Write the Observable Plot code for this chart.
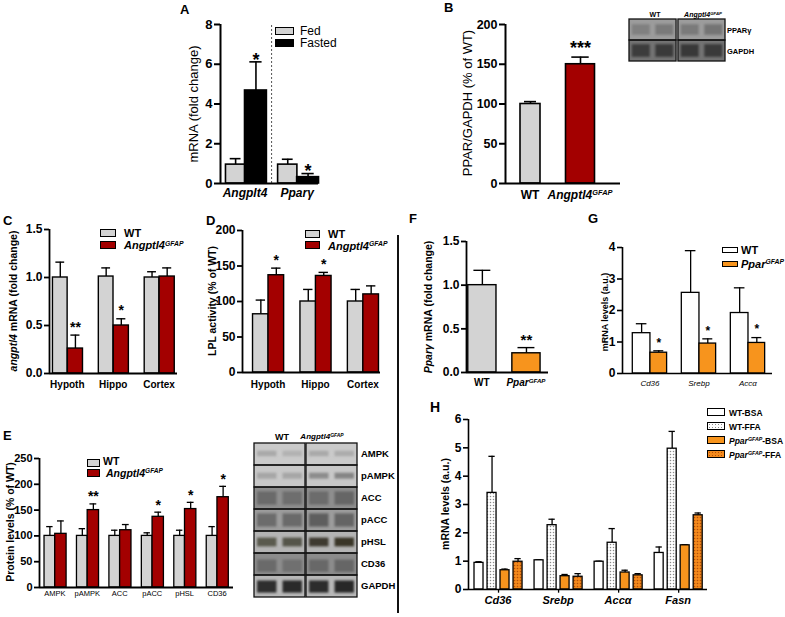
<!DOCTYPE html>
<html><head><meta charset="utf-8">
<script src="https://cdn.jsdelivr.net/npm/d3@7"></script>
<script src="https://cdn.jsdelivr.net/npm/@observablehq/plot@0.6"></script>
<style>
body{margin:0;background:#fff;}
#fig{position:relative;width:785px;height:617px;overflow:hidden;font-family:"Liberation Sans",Arial,sans-serif;color:#000;background:#fff;}
#fig svg{position:absolute;overflow:visible;background:transparent;}
.t{position:absolute;white-space:nowrap;line-height:1;}
.c{transform:translateX(-50%);}
.v{position:absolute;white-space:nowrap;line-height:1;transform:translate(-50%,-50%) rotate(-90deg);}
.sw{position:absolute;box-sizing:border-box;border:1.5px solid #000;}
sup{font-size:62%;vertical-align:0;position:relative;top:-0.5em;}
</style></head><body><div id="fig"></div>
<script>
// ---------- data ----------
const GRAY = "#d3d3d3", RED = "#a30000", ORANGE = "#f7941d", BLACK = "#000", WHITE = "#fff";

// A
const aGroups = ["Angplt4", "Pparγ"];
const aSeries = ["Fed", "Fasted"];
const aFed = [0.95, 0.95], aFedErr = [1.25, 1.22], aFedStars = ["", ""];
const aFasted = [4.68, 0.32], aFastedErr = [6.12, 0.5], aFastedStars = ["*", "*"];
const aTicks = [0, 2, 4, 6, 8];

// B
const bGroups = ["WT", "Angptl4^GFAP"];
const bValues = [100, 150], bErr = [103, 159], bStars = ["", "***"];
const bTicks = [0, 50, 100, 150, 200];
const bBlotRows = ["PPARγ", "GAPDH"];
const bBlotHeads = ["WT", "Angptl4^GFAP"];
const bBlotBg = ["#9c9c9c", "#737373"];
const bBlotBands = [["#808080", "#7a7a7a", "#7a7a7a", "#747474"], ["#3c3c3c", "#3a3a3a", "#383838", "#3a3a3a"]];

// C
const cGroups = ["Hypoth", "Hippo", "Cortex"];
const cSeries = ["WT", "Angptl4^GFAP"];
const cWT = [1.0, 1.01, 1.0], cWTErr = [1.16, 1.10, 1.06];
const cKO = [0.26, 0.50, 1.01], cKOErr = [0.40, 0.57, 1.10], cKOStars = ["**", "*", ""];
const cTicks = [0, 0.5, 1.0, 1.5];

// D
const dGroups = ["Hypoth", "Hippo", "Cortex"];
const dWT = [82, 100, 100], dWTErr = [102, 117, 117];
const dKO = [137, 136, 110], dKOErr = [147, 141, 122], dKOStars = ["*", "*", ""];
const dTicks = [0, 50, 100, 150, 200];

// E
const eGroups = ["AMPK", "pAMPK", "ACC", "pACC", "pHSL", "CD36"];
const eWT = [100, 100, 100, 100, 100, 100], eWTErr = [118, 114, 111, 106, 111, 118];
const eKO = [104, 150, 111, 137, 152, 175], eKOErr = [129, 162, 122, 146, 165, 196];
const eKOStars = ["", "**", "", "*", "*", "*"];
const eTicks = [0, 50, 100, 150, 200, 250];
const eBlotRows = ["AMPK", "pAMPK", "ACC", "pACC", "pHSL", "CD36", "GAPDH"];
const eBlotHeads = ["WT", "Angptl4^GFAP"];
const eBlotBg = ["#cacaca", "#c8c8c8", "#8e8e8e", "#9c9c9c", "#b4b4b4", "#8c8c8c", "#b8b8b8"];
const eBlotBands = [
  ["#a9a9a9", "#b2b2b2", "#a9a9a9", "#acacac"],
  ["#a6a6a6", "#a6a6a6", "#8c8c8c", "#858585"],
  ["#6a6a6a", "#6e6e6e", "#6c6c6c", "#666666"],
  ["#6c6c6c", "#6a6a6a", "#5e5e5e", "#646464"],
  ["#5a5a4e", "#55554a", "#3e3a30", "#3a3628"],
  ["#6a6a6a", "#707070", "#686868", "#666666"],
  ["#2e2e2e", "#2a2a2a", "#2c2c2c", "#282828"]
];

// F
const fGroups = ["WT", "Ppar^GFAP"];
const fValues = [1.0, 0.22], fErr = [1.17, 0.285], fStars = ["", "**"];
const fTicks = [0, 0.5, 1.0, 1.5];

// G
const gGroups = ["Cd36", "Srebp", "Accα"];
const gSeries = ["WT", "Ppar^GFAP"];
const gWT = [1.28, 2.56, 1.92], gWTErr = [1.58, 3.9, 2.72];
const gKO = [0.66, 0.95, 0.97], gKOErr = [0.72, 1.1, 1.14], gKOStars = ["*", "*", "*"];
const gTicks = [0, 1, 2, 3, 4];

// H
const hGroups = ["Cd36", "Srebp", "Accα", "Fasn"];
const hSeries = ["WT-BSA", "WT-FFA", "Ppar^GFAP-BSA", "Ppar^GFAP-FFA"];
const hWTBSA = [0.94, 1.03, 0.98, 1.29], hWTBSAErr = [0.98, 1.05, 1.0, 1.50];
const hWTFFA = [3.41, 2.27, 1.65, 4.97], hWTFFAErr = [4.70, 2.48, 2.15, 5.58];
const hKOBSA = [0.68, 0.47, 0.60, 1.56], hKOBSAErr = [0.72, 0.53, 0.68, 1.58];
const hKOFFA = [0.98, 0.45, 0.50, 2.62], hKOFFAErr = [1.09, 0.56, 0.56, 2.70];
const hTicks = [0, 1, 2, 3, 4, 5, 6];

// ---------- helpers ----------
const FONT = "Liberation Sans, Arial, sans-serif";
const fig = document.getElementById("fig");
function put(el, l, t) { el.style.left = l + "px"; el.style.top = t + "px"; fig.appendChild(el); return el; }
function fmt(s) { return s.replace(/\^(\w+)/, "<sup>$1</sup>"); }
function txt(x, y, html, css, center) {
  const d = document.createElement("div"); d.className = "t" + (center ? " c" : "");
  d.innerHTML = html; if (css) d.style.cssText = css; return put(d, x, y);
}
function vtxt(cx, cy, html, css) {
  const d = document.createElement("div"); d.className = "v"; d.innerHTML = html; if (css) d.style.cssText = css; return put(d, cx, cy);
}
function sw(x, y, w, h, bg, css) {
  const d = document.createElement("div"); d.className = "sw"; d.style.width = w + "px"; d.style.height = h + "px"; d.style.background = bg; if (css) d.style.cssText += css; return put(d, x, y);
}

function barPanel(o) {
  const padL = 60, padR = 6, padT = 14, padB = 10;
  const W = o.axR - o.axL + padL + padR, H = o.y0 - o.yTop + padT + padB;
  const lw = o.lw || 1.5;
  const bars = [];
  o.series.forEach((s, si) => {
    o.groups.forEach((g, i) => {
      bars.push({
        i, si, cx: i + (Array.isArray(s.off) ? s.off[i] : s.off),
        w: Array.isArray(s.w) ? s.w[i] : s.w,
        v: s.vals[i], e: s.errs[i], star: s.stars ? s.stars[i] : "",
        fill: Array.isArray(s.fill) ? s.fill[i] : s.fill
      });
    });
  });
  const marks = [...(o.before || [])];
  marks.push(Plot.ruleX(bars, {x: "cx", y1: "v", y2: "e", stroke: BLACK, strokeWidth: lw}));
  marks.push(Plot.ruleY(bars, {y: "e", x1: d => d.cx - d.w * o.cap, x2: d => d.cx + d.w * o.cap, stroke: BLACK, strokeWidth: lw}));
  marks.push(Plot.rect(bars, {x1: d => d.cx - d.w / 2, x2: d => d.cx + d.w / 2, y1: 0, y2: "v", fill: "fill", stroke: BLACK, strokeWidth: lw}));
  marks.push(Plot.text(bars.filter(d => d.star), {x: "cx", y: "e", text: "star", dy: o.starDy, fontSize: o.starSize, fontWeight: "bold"}));
  marks.push(Plot.ruleX([o.xDomain[0]], {y1: 0, y2: o.yDomain[1], stroke: BLACK, strokeWidth: o.axW}));
  marks.push(Plot.ruleY([0], {x1: o.xDomain[0], x2: o.xDomain[1], stroke: BLACK, strokeWidth: o.axW}));
  marks.push(Plot.axisY({ticks: o.yTicks, tickSize: o.tickSize || 5, tickPadding: 2, tickFormat: o.yFmt, fontSize: o.tickFont, fontWeight: "bold", strokeWidth: o.axW, label: null}));
  if (o.after) marks.push(...o.after);
  const p = Plot.plot({
    width: W, height: H, marginLeft: padL, marginRight: padR, marginTop: padT, marginBottom: padB,
    x: {domain: o.xDomain, axis: null}, y: {domain: o.yDomain, axis: null},
    color: {type: "identity"},
    style: {background: "transparent", fontFamily: FONT, fontWeight: "bold", overflow: "visible", color: "#000"},
    marks
  });
  put(p, o.axL - padL, o.yTop - padT);
  const xs = p.scale("x");
  o.groups.forEach((g, i) => txt(o.axL - padL + xs.apply(i), o.labelY, o.labelFmt ? o.labelFmt(g) : fmt(g), o.labelCss, true));
  return p;
}

function blot(o) {
  const boxes = [], bands = [];
  o.rows.forEach((r, ri) => {
    [0, 1].forEach(b => boxes.push({x1: b * (2 + o.gap), x2: b * (2 + o.gap) + 2, y1: ri, y2: ri + 1, fill: o.bg[ri]}));
    o.bands[ri].forEach((c, li) => {
      const x0 = li + (li >= 2 ? o.gap : 0);
      bands.push({x1: x0 + 0.12, x2: x0 + 0.88, y1: ri + o.bandY[ri][0], y2: ri + o.bandY[ri][1], fill: c});
    });
  });
  const p = Plot.plot({
    width: o.width + 2, height: o.height + 2, margin: 1,
    x: {domain: [0, 4 + o.gap], axis: null}, y: {domain: [0, o.rows.length], reverse: true, axis: null},
    color: {type: "identity"},
    style: {background: "transparent", overflow: "visible"},
    marks: [
      Plot.rect(boxes, {x1: "x1", x2: "x2", y1: "y1", y2: "y2", fill: "fill"}),
      Plot.rect(bands, {x1: "x1", x2: "x2", y1: "y1", y2: "y2", fill: "fill"}),
      Plot.rect(boxes, {x1: "x1", x2: "x2", y1: "y1", y2: "y2", fill: "none", stroke: "#111", strokeWidth: 1.3})
    ]
  });
  const gs = p.querySelectorAll("g[aria-label='rect']");
  if (gs[1]) gs[1].style.filter = "blur(1.3px)";
  put(p, o.left - 1, o.top - 1);
  return p;
}

const letter = "font-weight:bold;font-size:13px;";

// ---------- Panel A ----------
txt(180, 3, "A", letter);
barPanel({
  axL: 220, axR: 318, y0: 183, yTop: 24, xDomain: [-0.48, 1.40], yDomain: [0, 8], yTicks: aTicks, yFmt: d3.format("d"),
  tickFont: 13, tickSize: 6, axW: 2, lw: 1.6, cap: 0.28, starDy: -2, starSize: 18,
  groups: aGroups,
  series: [
    {vals: aFed, errs: aFedErr, stars: aFedStars, fill: GRAY, off: -0.19, w: 0.37},
    {vals: aFasted, errs: aFastedErr, stars: aFastedStars, fill: BLACK, off: 0.2, w: 0.42}
  ],
  before: [Plot.ruleX([0.5], {y1: 0, y2: 8, stroke: "#555", strokeDasharray: "2,2", strokeWidth: 1})],
  labelY: 186, labelCss: "font:italic bold 12px " + FONT
});
sw(275, 27, 19, 8, GRAY); txt(300, 25.5, aSeries[0], "font-size:12px;line-height:11px;");
sw(275, 39, 19, 8, BLACK); txt(300, 38, aSeries[1], "font-size:12px;line-height:11px;");
vtxt(193, 104, "mRNA (fold change)", "font-size:13px;");

// ---------- Panel B ----------
txt(444, 1, "B", letter);
barPanel({
  axL: 505, axR: 620, y0: 183, yTop: 24, xDomain: [-0.5, 1.8], yDomain: [0, 200], yTicks: bTicks, yFmt: d3.format("d"),
  tickFont: 12.5, tickSize: 6, axW: 2, lw: 1.6, cap: 0.3, starDy: -9, starSize: 18,
  groups: bGroups,
  series: [{vals: bValues, errs: bErr, stars: bStars, fill: [GRAY, RED], off: 0, w: [0.4, 0.58]}],
  labelY: 188, labelFmt: g => g.includes("^") ? "<i>" + fmt(g) + "</i>" : g, labelCss: "font:bold 12px " + FONT
});
vtxt(467, 103, "PPAR/GAPDH (% of WT)", "font-size:13px;");
blot({left: 629, top: 19, width: 96, height: 42, rows: bBlotRows, bg: bBlotBg, bands: bBlotBands, gap: 0.08, bandY: [[0.25, 0.75], [0.2, 0.8]]});
txt(655, 11, bBlotHeads[0], "font:bold 7px " + FONT, true);
txt(703, 11, "<i>" + fmt(bBlotHeads[1]) + "</i>", "font:bold 7px " + FONT, true);
bBlotRows.forEach((r, i) => txt(727, 26 + i * 21, r, "font:bold 7.5px " + FONT));

// ---------- Panel C ----------
txt(3, 214, "C", letter);
barPanel({
  axL: 49, axR: 177, y0: 373, yTop: 229, xDomain: [-0.40, 2.39], yDomain: [0, 1.5], yTicks: cTicks, yFmt: d3.format(".1f"),
  tickFont: 12, tickSize: 5, axW: 1.8, lw: 1.4, cap: 0.3, starDy: -8, starSize: 14,
  groups: cGroups,
  series: [
    {vals: cWT, errs: cWTErr, fill: GRAY, off: -0.165, w: 0.32},
    {vals: cKO, errs: cKOErr, stars: cKOStars, fill: RED, off: 0.165, w: 0.33}
  ],
  labelY: 379, labelCss: "font:bold 10px " + FONT
});
sw(100, 229, 16, 8, GRAY); txt(124, 228, cSeries[0], "font:bold 11px " + FONT + ";line-height:10px;");
sw(100, 241, 16, 8, RED); txt(124, 240, "<i>" + fmt(cSeries[1]) + "</i>", "font:bold 11px " + FONT + ";line-height:10px;");
vtxt(13, 301, "<i>angptl4</i> mRNA (fold change)", "font:bold 10.5px " + FONT);

// ---------- Panel D ----------
txt(206, 214, "D", letter);
barPanel({
  axL: 242, axR: 380, y0: 372, yTop: 230, xDomain: [-0.55, 2.36], yDomain: [0, 200], yTicks: dTicks, yFmt: d3.format("d"),
  tickFont: 12, tickSize: 5, axW: 1.8, lw: 1.4, cap: 0.3, starDy: -8, starSize: 14,
  groups: dGroups,
  series: [
    {vals: dWT, errs: dWTErr, fill: GRAY, off: -0.163, w: 0.33},
    {vals: dKO, errs: dKOErr, stars: dKOStars, fill: RED, off: 0.163, w: 0.33}
  ],
  labelY: 379, labelCss: "font:bold 10px " + FONT
});
sw(305, 230, 15, 8, GRAY); txt(328, 229, cSeries[0], "font:bold 11px " + FONT + ";line-height:10px;");
sw(305, 241, 15, 8, RED); txt(328, 240.5, "<i>" + fmt(cSeries[1]) + "</i>", "font:bold 11px " + FONT + ";line-height:10px;");
vtxt(212, 301, "LPL activity (% of WT)", "font:bold 10.5px " + FONT);

// divider
(() => { const d = document.createElement("div"); d.style.cssText = "position:absolute;width:2px;height:378px;background:#111;"; put(d, 397, 235); })();

// ---------- Panel E ----------
txt(3, 429, "E", letter);
barPanel({
  axL: 39, axR: 233, y0: 587, yTop: 458, xDomain: [-0.49, 5.49], yDomain: [0, 250], yTicks: eTicks, yFmt: d3.format("d"),
  tickFont: 11, tickSize: 5, axW: 1.8, lw: 1.3, cap: 0.3, starDy: -7, starSize: 14,
  groups: eGroups,
  series: [
    {vals: eWT, errs: eWTErr, fill: GRAY, off: -0.17, w: 0.33},
    {vals: eKO, errs: eKOErr, stars: eKOStars, fill: RED, off: 0.17, w: 0.35}
  ],
  labelY: 589, labelCss: "font:7.5px " + FONT
});
sw(87, 459, 13, 8, GRAY); txt(103, 457, cSeries[0], "font:bold 10.5px " + FONT + ";line-height:9.5px;");
sw(87, 469, 13, 8, RED); txt(106, 468.5, "<i>" + fmt(cSeries[1]) + "</i>", "font:bold 10.5px " + FONT + ";line-height:9.5px;");
vtxt(10, 522, "Protein levels (% of WT)", "font:bold 10.5px " + FONT);
blot({left: 254, top: 443, width: 103, height: 154, rows: eBlotRows, bg: eBlotBg, bands: eBlotBands, gap: 0.04,
  bandY: [[0.35, 0.6], [0.35, 0.62], [0.2, 0.8], [0.2, 0.8], [0.3, 0.7], [0.3, 0.85], [0.25, 0.8]]});
txt(282, 432, eBlotHeads[0], "font:bold 9px " + FONT, true);
txt(322, 432, "<i>" + fmt(eBlotHeads[1]) + "</i>", "font:bold 8px " + FONT, true);
eBlotRows.forEach((r, i) => txt(361, 448 + i * 22, r, "font:bold 9.5px " + FONT));

// ---------- Panel F ----------
txt(409, 212, "F", letter);
barPanel({
  axL: 466, axR: 548, y0: 372, yTop: 241, xDomain: [-0.36, 1.5], yDomain: [0, 1.5], yTicks: fTicks, yFmt: d3.format(".1f"),
  tickFont: 12, tickSize: 5, axW: 1.8, lw: 1.4, cap: 0.3, starDy: -7, starSize: 15,
  groups: fGroups,
  series: [{vals: fValues, errs: fErr, stars: fStars, fill: [GRAY, ORANGE], off: 0, w: 0.64}],
  labelY: 377, labelFmt: g => g.includes("^") ? "<i>" + fmt(g) + "</i>" : g, labelCss: "font:bold 10px " + FONT
});
vtxt(428, 307, "<i>Pparγ</i> mRNA (fold change)", "font:bold 10.5px " + FONT);

// ---------- Panel G ----------
txt(588, 212, "G", letter);
barPanel({
  axL: 622, axR: 772, y0: 373, yTop: 247, xDomain: [-0.57, 2.49], yDomain: [0, 4], yTicks: gTicks, yFmt: d3.format("d"),
  tickFont: 12, tickSize: 5, axW: 1.6, lw: 1.3, cap: 0.3, starDy: -8, starSize: 12,
  groups: gGroups,
  series: [
    {vals: gWT, errs: gWTErr, fill: WHITE, off: -0.18, w: 0.36},
    {vals: gKO, errs: gKOErr, stars: gKOStars, fill: ORANGE, off: 0.17, w: 0.34}
  ],
  labelY: 379, labelCss: "font:italic 8px " + FONT
});
sw(722, 247, 16, 6, WHITE); txt(741, 244.5, gSeries[0], "font:bold 11px " + FONT + ";line-height:11px;");
sw(722, 261, 16, 6, ORANGE); txt(741, 258.5, "<i>" + fmt(gSeries[1]) + "</i>", "font:bold 11px " + FONT + ";line-height:11px;");
vtxt(605, 312, "mRNA levels (a.u.)", "font:bold 9px " + FONT);

// ---------- Panel H ----------
txt(430, 400, "H", "font-weight:bold;font-size:14px;");
const hFills = [WHITE, "url(#dotsW)", ORANGE, "url(#dotsO)"];
const hOffs = [-0.325, -0.108, 0.108, 0.325];
const hVals = [hWTBSA, hWTFFA, hKOBSA, hKOFFA], hErrs = [hWTBSAErr, hWTFFAErr, hKOBSAErr, hKOFFAErr];
const hp = barPanel({
  axL: 468, axR: 707, y0: 589, yTop: 419, xDomain: [-0.5, 3.48], yDomain: [0, 6], yTicks: hTicks, yFmt: d3.format("d"),
  tickFont: 12, tickSize: 5, axW: 1.6, lw: 1.3, cap: 0.35, starDy: -5, starSize: 12,
  groups: hGroups,
  series: hSeries.map((s, k) => ({vals: hVals[k], errs: hErrs[k], fill: hFills[k], off: hOffs[k], w: 0.15})),
  after: [Plot.ruleX(hGroups.map((g, i) => i), {x: d => d, y1: 0, y2: -0.13, stroke: BLACK, strokeWidth: 1.3})],
  labelY: 594, labelCss: "font:italic bold 11px " + FONT
});
(() => {
  const ns = "http://www.w3.org/2000/svg";
  const defs = document.createElementNS(ns, "defs");
  defs.innerHTML =
    '<pattern id="dotsW" width="3" height="3" patternUnits="userSpaceOnUse"><rect width="3" height="3" fill="#fff"/><circle cx="1.5" cy="1.5" r="0.75" fill="#8a8a8a"/></pattern>' +
    '<pattern id="dotsO" width="3" height="3" patternUnits="userSpaceOnUse"><rect width="3" height="3" fill="#f48a1c"/><circle cx="1.5" cy="1.5" r="0.8" fill="#b4500a"/></pattern>';
  hp.insertBefore(defs, hp.firstChild);
})();
const hSwBg = [WHITE,
  "#fff radial-gradient(circle, #8a8a8a 0.7px, transparent 0.9px) 0 0/3px 3px",
  ORANGE,
  "#f48a1c radial-gradient(circle, #b4500a 0.8px, transparent 1px) 0 0/3px 3px"];
hSeries.forEach((s, k) => {
  sw(707, 408 + k * 14, 18, 8, hSwBg[k]);
  const html = s.includes("^") ? s.replace(/^(\w+)\^(\w+)(.*)$/, "<i>$1<sup>$2</sup></i>$3") : s;
  txt(729, 407.5 + k * 14, html, "font:bold 8.5px " + FONT);
});
vtxt(445, 504, "mRNA levels (a.u.)", "font:bold 10.5px " + FONT);
</script></body></html>
